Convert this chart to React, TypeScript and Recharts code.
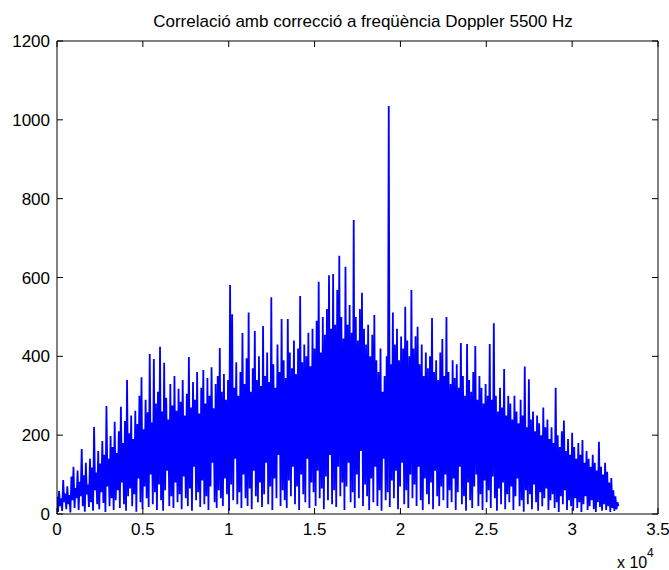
import React from "react";
import { LineChart, Line, XAxis, YAxis } from "recharts";

const TITLE = "Correlació amb correcció a freqüència Doppler 5500 Hz";
const X_TICKS = [0, 5000, 10000, 15000, 20000, 25000, 30000, 35000];
const Y_TICKS = [0, 200, 400, 600, 800, 1000, 1200];
const STEP = 120;

// local maxima (one per 120 samples)
const HIGHS = [
  44, 58, 40, 86, 52, 70, 48, 95, 120, 66,
  110, 82, 165, 98, 130, 75, 140, 118, 221, 105,
  160, 128, 185, 150, 274, 140, 198, 170, 234, 155,
  210, 272, 180, 236, 340, 205, 250, 190, 262, 228,
  300, 347, 215, 290, 258, 406, 232, 393, 280, 310,
  424, 260, 384, 295, 240, 330, 275, 350, 262, 318,
  285, 340, 250, 305, 398, 270, 335, 290, 360, 255,
  320, 365, 280, 345, 300, 372, 268, 330, 350, 421,
  310, 355, 290, 340, 581, 507, 320, 385, 300, 360,
  459, 330, 395, 511, 310, 370, 464, 340, 400, 325,
  477, 350, 410, 335, 550, 380, 320, 430, 360, 495,
  390, 345, 495, 410, 370, 440, 355, 420, 553, 385,
  430, 400, 460, 375, 470, 420, 490, 589, 410, 500,
  455, 520, 606, 470, 609, 480, 568, 655, 500, 445,
  627, 480, 530, 460, 746, 500, 440, 520, 561, 470,
  430, 480, 400, 455, 505, 390, 360, 420, 310, 350,
  400, 1035, 380, 511, 430, 470, 390, 450, 420, 526,
  440, 400, 568, 420, 451, 475, 380, 430, 350, 410,
  370, 400, 497, 360, 390, 340, 410, 444, 350, 500,
  360, 330, 390, 345, 380, 320, 434, 350, 300, 431,
  340, 310, 360, 426, 290, 350, 320, 280, 330, 300,
  431, 290, 484, 300, 260, 320, 270, 368, 250, 300,
  280, 240, 300, 260, 230, 290, 250, 374, 220, 342,
  240, 260, 210, 250, 230, 200, 270, 220, 240, 190,
  220, 180, 320, 200, 170, 210, 237, 160, 190, 150,
  206, 170, 140, 180, 150, 188, 130, 160, 140, 120,
  150, 130, 110, 183, 120, 100, 130, 107, 80, 91,
  60, 45, 30,
];

// local minima (one per 120 samples, offset by 60)
const LOWS = [
  5, 20, 8, 30, 12, 25, 4, 35, 15, 40,
  10, 45, 20, 6, 50, 18, 30, 8, 60, 25,
  12, 55, 28, 5, 70, 20, 40, 10, 35, 60,
  15, 80, 25, 8, 45, 65, 20, 50, 6, 90,
  30, 12, 70, 40, 18, 100, 25, 55, 10, 75,
  35, 8, 60, 110, 20, 45, 15, 80, 30, 50,
  12, 95, 40, 20, 65, 8, 120, 35, 55, 18,
  85, 25, 45, 10, 70, 130, 30, 15, 60, 40,
  20, 90, 50, 8, 75, 35, 140, 25, 55, 15,
  100, 40, 20, 65, 12, 110, 45, 30, 80, 18,
  50, 130, 25, 70, 10, 90, 40, 150, 20, 60,
  35, 15, 85, 45, 120, 25, 70, 10, 100, 50,
  30, 140, 15, 80, 55, 20, 110, 40, 65, 12,
  95, 35, 150, 25, 60, 18, 120, 45, 80, 10,
  70, 130, 30, 55, 15, 100, 40, 160, 20, 75,
  45, 10, 90, 30, 120, 20, 60, 8, 140, 35,
  55, 18, 85, 40, 110, 12, 70, 130, 25, 60,
  15, 100, 40, 75, 20, 120, 35, 10, 90, 50,
  25, 80, 12, 110, 45, 20, 70, 35, 100, 15,
  60, 30, 90, 10, 55, 120, 25, 45, 8, 80,
  35, 15, 70, 100, 20, 50, 10, 85, 30, 60,
  15, 95, 40, 8, 65, 25, 80, 12, 50, 30,
  70, 10, 45, 90, 20, 35, 6, 60, 25, 50,
  12, 75, 30, 8, 55, 20, 40, 65, 10, 35,
  50, 15, 30, 5, 45, 25, 60, 10, 35, 20,
  8, 40, 15, 30, 5, 25, 45, 10, 20, 35,
  12, 5, 30, 18, 8, 25, 10, 20, 5, 15,
  8, 12, 20,
];

const data: { x: number; y: number }[] = [];
HIGHS.forEach((h, i) => {
  data.push({ x: i * STEP, y: h });
  data.push({ x: i * STEP + STEP / 2, y: LOWS[i] });
});

const FONT = "'Liberation Sans', Arial, Helvetica, sans-serif";
const TICK_LEN = 6;

const BottomTick = (props: any) => {
  const { x, y, payload } = props;
  return (
    <g>
      <line x1={x} x2={x} y1={y} y2={y - TICK_LEN} stroke="#000" strokeWidth={1} />
      <text x={x} y={y + 21} textAnchor="middle" fontSize={17} fontFamily={FONT} fill="#000">
        {String(payload.value / 10000)}
      </text>
    </g>
  );
};

const TopTick = (props: any) => {
  const { x, y } = props;
  return <line x1={x} x2={x} y1={y} y2={y + TICK_LEN} stroke="#000" strokeWidth={1} />;
};

const LeftTick = (props: any) => {
  const { x, y, payload } = props;
  return (
    <g>
      <line x1={x} x2={x + TICK_LEN} y1={y} y2={y} stroke="#000" strokeWidth={1} />
      <text x={x - 7} y={y + 6} textAnchor="end" fontSize={17} fontFamily={FONT} fill="#000">
        {String(payload.value)}
      </text>
    </g>
  );
};

const RightTick = (props: any) => {
  const { x, y } = props;
  return <line x1={x} x2={x - TICK_LEN} y1={y} y2={y} stroke="#000" strokeWidth={1} />;
};

export default function App() {
  return (
    <div style={{ position: "absolute", left: 0, top: 0, width: 669, height: 570, background: "#fff" }}>
      <LineChart
        width={669}
        height={570}
        data={data}
        margin={{ top: 0, right: 0, bottom: 0, left: 0 }}
      >
        <XAxis
          xAxisId="b"
          dataKey="x"
          type="number"
          domain={[0, 35000]}
          ticks={X_TICKS}
          allowDataOverflow
          height={56}
          tickSize={0}
          tickMargin={0}
          tickLine={false}
          stroke="#000"
          tick={<BottomTick />}
          interval={0}
        />
        <XAxis
          xAxisId="t"
          orientation="top"
          dataKey="x"
          type="number"
          domain={[0, 35000]}
          ticks={X_TICKS}
          allowDataOverflow
          height={41}
          tickSize={0}
          tickMargin={0}
          tickLine={false}
          stroke="#000"
          tick={<TopTick />}
          interval={0}
        />
        <YAxis
          yAxisId="l"
          type="number"
          domain={[0, 1200]}
          ticks={Y_TICKS}
          allowDataOverflow
          width={57}
          tickSize={0}
          tickMargin={0}
          tickLine={false}
          stroke="#000"
          tick={<LeftTick />}
          interval={0}
        />
        <YAxis
          yAxisId="r"
          orientation="right"
          type="number"
          domain={[0, 1200]}
          ticks={Y_TICKS}
          allowDataOverflow
          width={11}
          tickSize={0}
          tickMargin={0}
          tickLine={false}
          stroke="#000"
          tick={<RightTick />}
          interval={0}
        />
        <Line
          xAxisId="b"
          yAxisId="l"
          type="linear"
          dataKey="y"
          stroke="#0000ff"
          strokeWidth={1.8}
          strokeLinejoin="miter"
          strokeMiterlimit={1}
          dot={false}
          activeDot={false}
          isAnimationActive={false}
        />
      </LineChart>
      <svg
        width={669}
        height={570}
        style={{ position: "absolute", left: 0, top: 0, pointerEvents: "none" }}
      >
        <text x={363} y={27} textAnchor="middle" fontSize={17} fontFamily={FONT} fill="#000">
          {TITLE}
        </text>
        <text x={617} y={568} fontSize={16} fontFamily={FONT} fill="#000">
          x 10
        </text>
        <text x={647} y={557} fontSize={12} fontFamily={FONT} fill="#000">
          4
        </text>
      </svg>
    </div>
  );
}
